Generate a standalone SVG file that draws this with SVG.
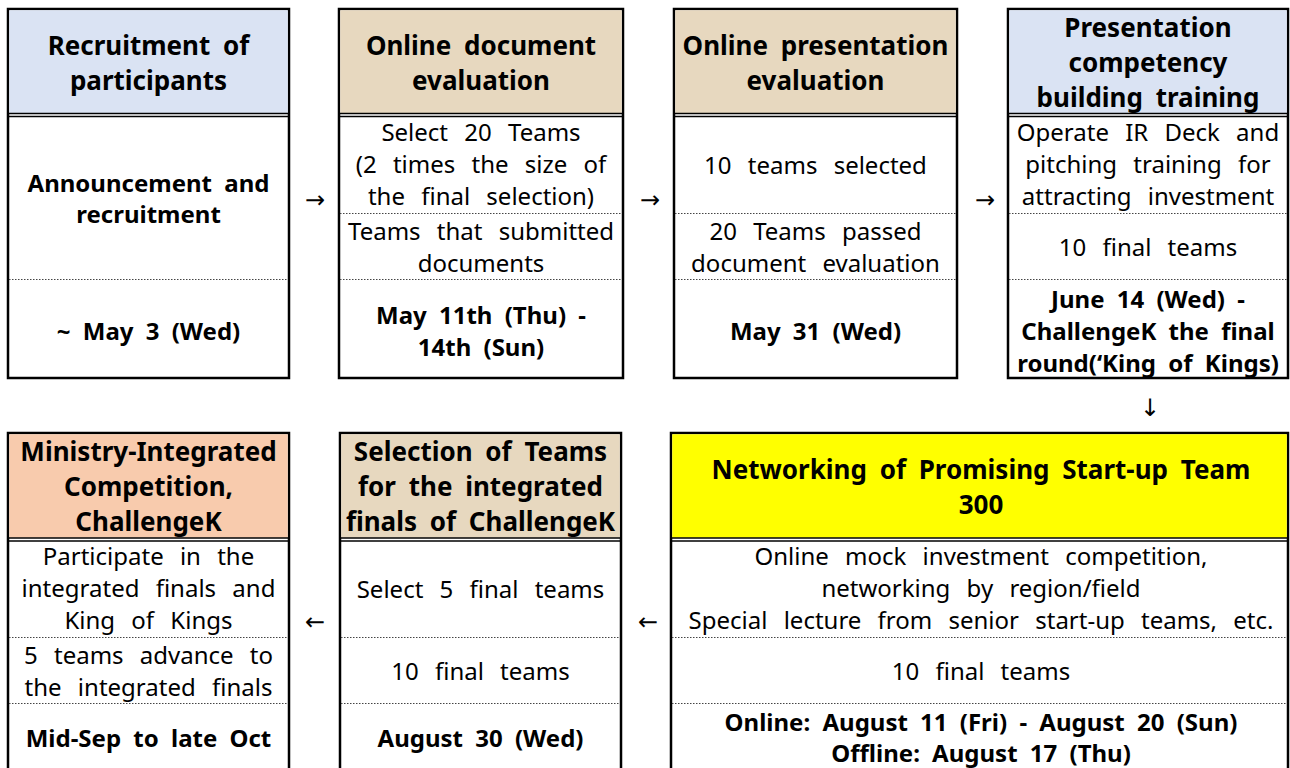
<svg xmlns="http://www.w3.org/2000/svg" width="1290" height="768" viewBox="0 0 1290 768">
<style>
.box{fill:#fff;stroke:#000;stroke-width:2.5}
.sep{stroke:#000;stroke-width:1.3}
.dot{stroke:#444;stroke-width:1;stroke-dasharray:1.5,1.5}
text{font-family:"Noto Sans","DejaVu Sans",sans-serif;text-anchor:middle;fill:#000}
.h{font-size:26px;font-weight:bold;word-spacing:6px}
.b{font-size:24px;word-spacing:10px}
.bb{font-size:24px;font-weight:bold;word-spacing:6px}
.arr{font-size:24px}
</style>
<rect width="1290" height="768" fill="#fff"/>
<g id="n1">
<rect class="box" x="8" y="9" width="281" height="369"/>
<rect x="9.25" y="10.25" width="278.5" height="103" fill="#dae3f3"/>
<line class="sep" x1="8" y1="113.5" x2="289" y2="113.5"/><line class="sep" x1="8" y1="116.5" x2="289" y2="116.5"/>
<line class="dot" x1="9" y1="279.5" x2="288" y2="279.5"/>
<text class="h" x="148.5" y="55">Recruitment of</text>
<text class="h" x="148.5" y="90">participants</text>
<text class="bb" x="148.5" y="192">Announcement and</text>
<text class="bb" x="148.5" y="223">recruitment</text>
<text class="bb" x="148.5" y="340">~ May 3 (Wed)</text>
</g>
<g id="n2">
<rect class="box" x="339" y="9" width="284" height="369"/>
<rect x="340.25" y="10.25" width="281.5" height="103" fill="#e7d8bf"/>
<line class="sep" x1="339" y1="113.5" x2="623" y2="113.5"/><line class="sep" x1="339" y1="116.5" x2="623" y2="116.5"/>
<line class="dot" x1="340" y1="213.5" x2="622" y2="213.5"/>
<line class="dot" x1="340" y1="279.5" x2="622" y2="279.5"/>
<text class="h" x="481" y="55">Online document</text>
<text class="h" x="481" y="90">evaluation</text>
<text class="b" x="481" y="141">Select 20 Teams</text>
<text class="b" x="481" y="173">(2 times the size of</text>
<text class="b" x="481" y="205">the final selection)</text>
<text class="b" x="481" y="240">Teams that submitted</text>
<text class="b" x="481" y="272">documents</text>
<text class="bb" x="481" y="324">May 11th (Thu) -</text>
<text class="bb" x="481" y="356">14th (Sun)</text>
</g>
<g id="n3">
<rect class="box" x="674" y="9" width="283" height="369"/>
<rect x="675.25" y="10.25" width="280.5" height="103" fill="#e7d8bf"/>
<line class="sep" x1="674" y1="113.5" x2="957" y2="113.5"/><line class="sep" x1="674" y1="116.5" x2="957" y2="116.5"/>
<line class="dot" x1="675" y1="213.5" x2="956" y2="213.5"/>
<line class="dot" x1="675" y1="279.5" x2="956" y2="279.5"/>
<text class="h" x="815.5" y="55">Online presentation</text>
<text class="h" x="815.5" y="90">evaluation</text>
<text class="b" x="815.5" y="174">10 teams selected</text>
<text class="b" x="815.5" y="240">20 Teams passed</text>
<text class="b" x="815.5" y="272">document evaluation</text>
<text class="bb" x="815.5" y="340">May 31 (Wed)</text>
</g>
<g id="n4">
<rect class="box" x="1008" y="9" width="280" height="369"/>
<rect x="1009.25" y="10.25" width="277.5" height="103" fill="#dae3f3"/>
<line class="sep" x1="1008" y1="113.5" x2="1288" y2="113.5"/><line class="sep" x1="1008" y1="116.5" x2="1288" y2="116.5"/>
<line class="dot" x1="1009" y1="213.5" x2="1287" y2="213.5"/>
<line class="dot" x1="1009" y1="279.5" x2="1287" y2="279.5"/>
<text class="h" x="1148" y="37">Presentation</text>
<text class="h" x="1148" y="72">competency</text>
<text class="h" x="1148" y="107">building training</text>
<text class="b" x="1148" y="141">Operate IR Deck and</text>
<text class="b" x="1148" y="173">pitching training for</text>
<text class="b" x="1148" y="205">attracting investment</text>
<text class="b" x="1148" y="256">10 final teams</text>
<text class="bb" x="1148" y="308">June 14 (Wed) -</text>
<text class="bb" x="1148" y="340">ChallengeK the final</text>
<text class="bb" x="1148" y="372">round(‘King of Kings)</text>
</g>
<g id="n5">
<rect class="box" x="8" y="433" width="281" height="350"/>
<rect x="9.25" y="434.25" width="278.5" height="103.5" fill="#f8cbad"/>
<line class="sep" x1="8" y1="538" x2="289" y2="538"/><line class="sep" x1="8" y1="541" x2="289" y2="541"/>
<line class="dot" x1="9" y1="637.5" x2="288" y2="637.5"/>
<line class="dot" x1="9" y1="703.5" x2="288" y2="703.5"/>
<text class="h" x="148.5" y="461">Ministry-Integrated</text>
<text class="h" x="148.5" y="496">Competition,</text>
<text class="h" x="148.5" y="531">ChallengeK</text>
<text class="b" x="148.5" y="565">Participate in the</text>
<text class="b" x="148.5" y="597">integrated finals and</text>
<text class="b" x="148.5" y="629">King of Kings</text>
<text class="b" x="148.5" y="664">5 teams advance to</text>
<text class="b" x="148.5" y="696">the integrated finals</text>
<text class="bb" x="148.5" y="747">Mid-Sep to late Oct</text>
</g>
<g id="n6">
<rect class="box" x="340" y="433" width="281" height="350"/>
<rect x="341.25" y="434.25" width="278.5" height="103.5" fill="#e7d8bf"/>
<line class="sep" x1="340" y1="538" x2="621" y2="538"/><line class="sep" x1="340" y1="541" x2="621" y2="541"/>
<line class="dot" x1="341" y1="637.5" x2="620" y2="637.5"/>
<line class="dot" x1="341" y1="703.5" x2="620" y2="703.5"/>
<text class="h" x="480.5" y="461">Selection of Teams</text>
<text class="h" x="480.5" y="496">for the integrated</text>
<text class="h" x="480.5" y="531">finals of ChallengeK</text>
<text class="b" x="480.5" y="598">Select 5 final teams</text>
<text class="b" x="480.5" y="680">10 final teams</text>
<text class="bb" x="480.5" y="747">August 30 (Wed)</text>
</g>
<g id="n7">
<rect class="box" x="671" y="433" width="617" height="350"/>
<rect x="672.25" y="434.25" width="614.5" height="103.5" fill="#ffff00"/>
<line class="sep" x1="671" y1="538" x2="1288" y2="538"/><line class="sep" x1="671" y1="541" x2="1288" y2="541"/>
<line class="dot" x1="672" y1="637.5" x2="1287" y2="637.5"/>
<line class="dot" x1="672" y1="703.5" x2="1287" y2="703.5"/>
<text class="h" x="981" y="479">Networking of Promising Start-up Team</text>
<text class="h" x="981" y="514">300</text>
<text class="b" x="981" y="565">Online mock investment competition,</text>
<text class="b" x="981" y="597">networking by region/field</text>
<text class="b" x="981" y="629">Special lecture from senior start-up teams, etc.</text>
<text class="b" x="981" y="680">10 final teams</text>
<text class="bb" x="981" y="731">Online: August 11 (Fri) - August 20 (Sun)</text>
<text class="bb" x="981" y="762">Offline: August 17 (Thu)</text>
</g>
<g id="connectors">
<text class="arr" x="315" y="208">→</text>
<text class="arr" x="650" y="208">→</text>
<text class="arr" x="985" y="208">→</text>
<text class="arr" x="1150" y="416">↓</text>
<text class="arr" x="648" y="630">←</text>
<text class="arr" x="315" y="630">←</text>
</g>
</svg>
